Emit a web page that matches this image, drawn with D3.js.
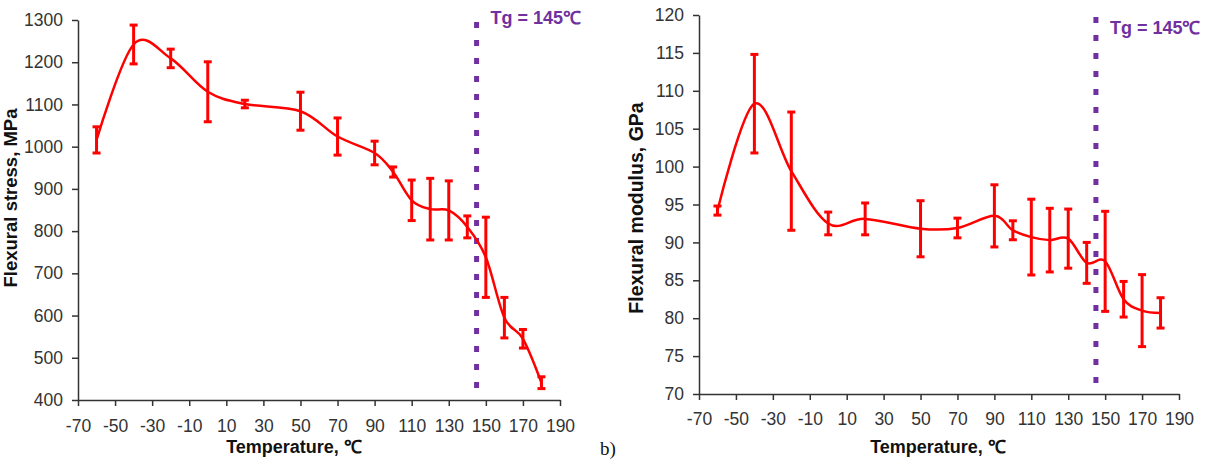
<!DOCTYPE html>
<html lang="en">
<head>
<meta charset="UTF-8">
<title>Flexural stress and modulus vs temperature</title>
<script src="https://d3js.org/d3.v7.min.js"></script>
<style>
    body {
        margin: 0;
        background: #fff;
        font-family: Arial, 'Liberation Sans', sans-serif;
    }
    .tick text {
        fill: #333;
    }
</style>
</head>
<body>
<svg id="chart" width="1205" height="462"></svg>
<script>
// temperatures (°C) shared by both panels
const temps = [-60, -40, -20, 0, 20, 50, 70, 90, 100, 110, 120, 130, 140, 150, 160, 170, 180];

// panel a: flexural stress, MPa
const stressMean = [1016, 1242, 1209, 1130, 1101, 1084, 1024, 985, 940, 873, 852, 849, 810, 738, 595, 545, 441];
const stressErr  = [31, 46, 22, 71, 9, 45, 44, 28, 12, 48, 73, 70, 26, 95, 48, 22, 14];
const stressTicks = [400, 500, 600, 700, 800, 900, 1000, 1100, 1200, 1300];

// panel b: flexural modulus, GPa
const modMean = [94.2, 108.3, 99.4, 92.5, 93.1, 91.8, 91.9, 93.5, 91.6, 90.7, 90.3, 90.5, 87.3, 87.5, 82.5, 81.0, 80.7];
const modErr  = [0.6, 6.5, 7.8, 1.5, 2.1, 3.7, 1.3, 4.1, 1.25, 5.0, 4.2, 3.9, 2.7, 6.6, 2.35, 4.75, 2.0];
const modTicks = [70, 75, 80, 85, 90, 95, 100, 105, 110, 115, 120];

const xTicks = [-70, -50, -30, -10, 10, 30, 50, 70, 90, 110, 130, 150, 170, 190];
const tg = 145;

const svg = d3.select("#chart");
const plain = d => String(d); // keep hyphen minus, no thousands separator

function drawPanel(p) {
    const x = d3.scaleLinear().domain([-70, 190]).range([p.left, p.right]);
    const y = d3.scaleLinear().domain(p.yDomain).range([p.bottom, p.top]);
    const g = svg.append("g");

    // axes
    const xAxis = g.append("g")
        .attr("transform", `translate(0,${p.bottom})`)
        .call(d3.axisBottom(x).tickValues(xTicks).tickFormat(plain)
            .tickSize(6).tickPadding(p.xPad).tickSizeOuter(0));
    const yAxis = g.append("g")
        .attr("transform", `translate(${p.left},0)`)
        .call(d3.axisLeft(y).tickValues(p.yTicks).tickFormat(plain)
            .tickSize(6).tickPadding(9).tickSizeOuter(0));
    [xAxis, yAxis].forEach(a => {
        a.selectAll("path, line").attr("stroke", "#333").attr("stroke-width", 1.5);
        a.selectAll("text").attr("font-size", 17.5).attr("font-family", "Arial, 'Liberation Sans', sans-serif");
    });

    // Tg line
    g.append("line")
        .attr("x1", x(tg)).attr("x2", x(tg))
        .attr("y1", p.top + 2).attr("y2", p.bottom - 8)
        .attr("stroke", "#7030A0")
        .attr("stroke-width", 5)
        .attr("stroke-dasharray", "6 12");
    g.append("text")
        .attr("x", x(tg) + 14)
        .attr("y", p.tgY)
        .attr("fill", "#7030A0")
        .attr("font-size", 18)
        .attr("font-weight", "bold")
        .text("Tg = 145℃");

    // smoothed line
    const pts = temps.map((t, i) => ({ t, v: p.mean[i], e: p.err[i] }));
    const line = d3.line()
        .x(d => x(d.t))
        .y(d => y(d.v))
        .curve(d3.curveCardinal.tension(0));
    g.append("path")
        .datum(pts)
        .attr("fill", "none")
        .attr("stroke", "#ff0000")
        .attr("stroke-width", 2.5)
        .attr("d", line);

    // error bars
    const eb = g.append("g").attr("stroke", "#ff0000").attr("stroke-width", 3);
    pts.forEach(d => {
        const cx = x(d.t);
        eb.append("line")
            .attr("x1", cx).attr("x2", cx)
            .attr("y1", y(d.v - d.e)).attr("y2", y(d.v + d.e));
        [d.v - d.e, d.v + d.e].forEach(v => {
            eb.append("line")
                .attr("x1", cx - 4).attr("x2", cx + 4)
                .attr("y1", y(v)).attr("y2", y(v));
        });
    });

    // axis titles
    g.append("text")
        .attr("x", p.xTitleX)
        .attr("y", 453)
        .attr("text-anchor", "middle")
        .attr("font-size", 18)
        .attr("font-weight", "bold")
        .attr("fill", "#111")
        .text("Temperature, ℃");
    g.append("text")
        .attr("transform", `translate(${p.yTitleX},${p.yTitleY}) rotate(-90)`)
        .attr("text-anchor", "middle")
        .attr("font-size", p.yTitleSize)
        .attr("font-weight", "bold")
        .attr("fill", "#111")
        .text(p.yTitle);
}

drawPanel({
    left: 78, right: 560, top: 20, bottom: 400,
    yDomain: [400, 1300], yTicks: stressTicks,
    mean: stressMean, err: stressErr,
    xPad: 14, tgY: 24,
    xTitleX: 294,
    yTitle: "Flexural stress, MPa", yTitleX: 17, yTitleY: 198, yTitleSize: 18.5
});

drawPanel({
    left: 699, right: 1179, top: 15, bottom: 394,
    yDomain: [70, 120], yTicks: modTicks,
    mean: modMean, err: modErr,
    xPad: 13, tgY: 34,
    xTitleX: 938,
    yTitle: "Flexural modulus, GPa", yTitleX: 643, yTitleY: 208, yTitleSize: 19.5
});

svg.append("text")
    .attr("x", 600)
    .attr("y", 455)
    .attr("font-family", "'Liberation Serif', 'Times New Roman', serif")
    .attr("font-size", 19)
    .attr("fill", "#111")
    .text("b)");
</script>
</body>
</html>
